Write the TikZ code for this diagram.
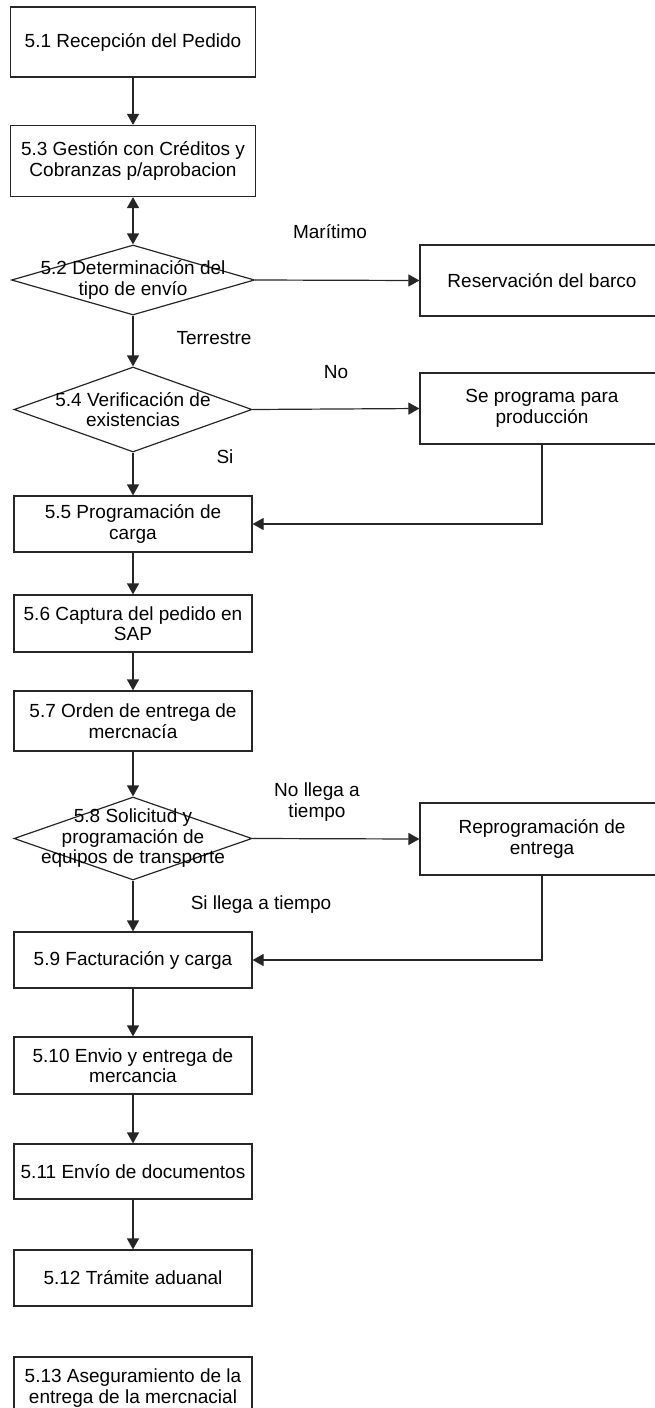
\documentclass[tikz,border=0pt]{standalone}
\usepackage{fontspec}
\setmainfont{Liberation Sans}
\usetikzlibrary{shapes.geometric,arrows.meta}
\begin{document}
\begin{tikzpicture}[x=1pt,y=-1pt,
  font=\fontsize{19}{20.5}\selectfont,
  line/.style={draw=black!85, line width=1.2pt},
  proc/.style={line, rectangle, inner sep=0pt, minimum width=238pt, align=center},
  side/.style={proc, minimum width=244pt},
  dec/.style={line, diamond, inner sep=0pt, minimum width=238pt, minimum height=84pt},
  txt/.style={align=center, inner sep=0pt},
  tip/.tip={Triangle[length=11pt,width=12pt]},
  flow/.style={line, -tip},
]
\useasboundingbox (0,0) rectangle (655,1408);

% main column
\node[proc, minimum width=245pt, minimum height=70pt] (b51) at (133,42) {5.1 Recepción del Pedido};
\node[proc, minimum width=245pt, minimum height=71pt] (b53) at (133,161) {5.3 Gestión con Créditos y\\Cobranzas p/aprobacion};
\node[dec, minimum width=243pt, minimum height=70pt] (d52) at (133,280) {};
\node[txt] at (d52) {5.2 Determinación del\\tipo de envío};
\node[dec, minimum height=85pt] (d54) at (133,409.5) {};
\node[txt] at (d54) {5.4 Verificación de\\existencias};
\node[proc, minimum height=56pt] (b55) at (133,524) {5.5 Programación de\\carga};
\node[proc, minimum height=57pt] (b56) at (133,623.5) {5.6 Captura del pedido en\\SAP};
\node[proc, minimum height=60pt] (b57) at (133,721) {5.7 Orden de entrega de\\mercnacía};
\node[dec, minimum height=83pt] (d58) at (133,838.5) {};
\node[txt] at (d58) {5.8 Solicitud y\\programación de\\equipos de transporte};
\node[proc, minimum height=56pt] (b59) at (133,960) {5.9 Facturación y carga};
\node[proc, minimum height=57pt] (b510) at (133,1065.5) {5.10 Envio y entrega de\\mercancia};
\node[proc, minimum height=55pt] (b511) at (133,1171.5) {5.11 Envío de documentos};
\node[proc, minimum height=56pt] (b512) at (133,1278) {5.12 Trámite aduanal};
\node[proc, minimum height=62pt] (b513) at (133,1388) {5.13 Aseguramiento de la\\entrega de la mercnacial};

% side column
\node[side, minimum height=71pt] (rb) at (542,280.5) {Reservación del barco};
\node[side, minimum height=71pt] (sp) at (542,408.5) {Se programa para\\producción};
\node[side, minimum height=72pt] (rp) at (542,839) {Reprogramación de\\entrega};

% connectors
\draw[flow] (b51.south) -- (b53.north);
\draw[line, tip-tip] (b53.south) -- (d52.north);
\draw[flow] (d52.south) -- (d54.north);
\draw[flow] (d52.east) -- (rb.west);
\draw[flow] (d54.south) -- (b55.north);
\draw[flow] (d54.east) -- (sp.west);
\draw[flow] (sp.south) |- (b55.east);
\draw[flow] (b55.south) -- (b56.north);
\draw[flow] (b56.south) -- (b57.north);
\draw[flow] (b57.south) -- (d58.north);
\draw[flow] (d58.south) -- (b59.north);
\draw[flow] (d58.east) -- (rp.west);
\draw[flow] (rp.south) |- (b59.east);
\draw[flow] (b59.south) -- (b510.north);
\draw[flow] (b510.south) -- (b511.north);
\draw[flow] (b511.south) -- (b512.north);

% branch labels
\node[txt] (lmar) at (330,232) {Marítimo};
\node[txt] (lter) at (214,338) {Terrestre};
\node[txt] (lno) at (336,372) {No};
\node[txt] (lsi) at (225,457) {Si};
\node[txt] (lnolt) at (317,802) {No llega a\\tiempo};
\node[txt] (lsilt) at (261,905) {Si llega a tiempo};
\end{tikzpicture}
\end{document}
